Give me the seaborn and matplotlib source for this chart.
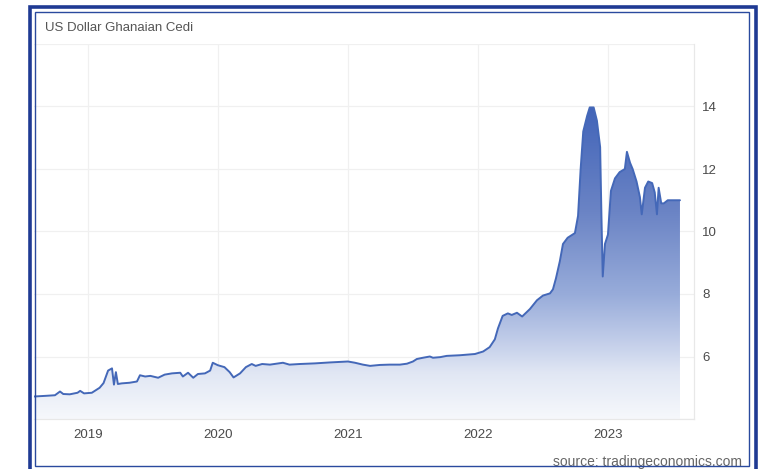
import numpy as np
import pandas as pd
import matplotlib
matplotlib.use("Agg")
import matplotlib.pyplot as plt
from matplotlib.colors import LinearSegmentedColormap
from matplotlib.patches import Rectangle
import seaborn as sns

# ---- data (decimal years, USD/GHS) ----
years = [2018.585, 2018.67, 2018.746, 2018.785, 2018.81, 2018.86, 2018.92, 2018.94, 2018.97,
         2019.03, 2019.09, 2019.12, 2019.155, 2019.185, 2019.20, 2019.215, 2019.23, 2019.26,
         2019.32, 2019.377, 2019.40, 2019.44, 2019.48, 2019.54, 2019.59, 2019.646, 2019.71,
         2019.73, 2019.77, 2019.81, 2019.846, 2019.90, 2019.94, 2019.96, 2020.0, 2020.05,
         2020.09, 2020.12, 2020.17, 2020.215, 2020.26, 2020.29, 2020.34, 2020.40, 2020.50,
         2020.55, 2020.63, 2020.746, 2020.86, 2021.0, 2021.054, 2021.115, 2021.17, 2021.246,
         2021.32, 2021.40, 2021.454, 2021.50, 2021.53, 2021.577, 2021.63, 2021.654, 2021.71,
         2021.76, 2021.86, 2021.977, 2022.04, 2022.09, 2022.13, 2022.154, 2022.19, 2022.23,
         2022.26, 2022.30, 2022.34, 2022.40, 2022.454, 2022.50, 2022.554, 2022.577, 2022.60,
         2022.63, 2022.654, 2022.69, 2022.746, 2022.77, 2022.79, 2022.81, 2022.84, 2022.86,
         2022.89, 2022.915, 2022.94, 2022.95, 2022.96, 2022.977, 2023.0, 2023.023, 2023.054,
         2023.09, 2023.13, 2023.146, 2023.17, 2023.19, 2023.22, 2023.246, 2023.26, 2023.285,
         2023.31, 2023.34, 2023.36, 2023.377, 2023.39, 2023.41, 2023.43, 2023.46, 2023.554]
rates = [4.72, 4.74, 4.76, 4.88, 4.80, 4.79, 4.84, 4.90, 4.82,
         4.84, 5.00, 5.15, 5.55, 5.62, 5.10, 5.50, 5.12, 5.14,
         5.16, 5.20, 5.40, 5.36, 5.38, 5.32, 5.42, 5.46, 5.48,
         5.36, 5.48, 5.32, 5.44, 5.46, 5.55, 5.80, 5.72, 5.66,
         5.50, 5.33, 5.46, 5.66, 5.76, 5.70, 5.76, 5.74, 5.80,
         5.74, 5.76, 5.78, 5.81, 5.84, 5.80, 5.74, 5.70, 5.73,
         5.74, 5.74, 5.77, 5.84, 5.92, 5.96, 6.00, 5.96, 5.98,
         6.02, 6.04, 6.08, 6.16, 6.30, 6.55, 6.90, 7.30, 7.38,
         7.33, 7.40, 7.28, 7.52, 7.80, 7.95, 8.02, 8.15, 8.50,
         9.05, 9.60, 9.80, 9.95, 10.50, 12.00, 13.20, 13.70, 13.97,
         13.97, 13.55, 12.70, 10.50, 8.56, 9.60, 9.90, 11.30, 11.70,
         11.90, 12.00, 12.55, 12.20, 12.00, 11.60, 11.10, 10.55, 11.40,
         11.60, 11.55, 11.25, 10.55, 11.40, 10.90, 10.90, 11.00, 11.00]
x_ticks = [2019, 2020, 2021, 2022, 2023]
x_labels = ["2019", "2020", "2021", "2022", "2023"]
y_ticks = [4, 6, 8, 10, 12, 14, 16]
y_labels = ["", "6", "8", "10", "12", "14", ""]
title = "US Dollar Ghanaian Cedi"
source = "source: tradingeconomics.com"

df = pd.DataFrame({"year": years, "rate": rates})

sns.set_theme(style="white")
plt.rcParams["font.family"] = ["Liberation Sans", "DejaVu Sans"]

W, H = 762, 469
fig = plt.figure(figsize=(W / 100, H / 100), dpi=100)
fig.patch.set_facecolor("white")
ax = fig.add_axes([34 / W, 1 - 419 / H, (694 - 34) / W, (419 - 44) / H])

xmin, xmax = 2018.585, 2023.662
ymin, ymax = 4, 16

# gradient fill under the line
cmap = LinearSegmentedColormap.from_list(
    "tefill",
    [(0.0, "#f6f8fc"), (0.12, "#e1e7f4"), (0.2, "#c4cfea"), (0.33, "#98acda"),
     (0.55, "#6b84c5"), (0.85, "#3f62b8"), (1.0, "#3a5cb2")])
poly = ax.fill_between(df["year"], df["rate"], ymin, facecolor="none", edgecolor="none")
grad = np.linspace(0, 1, 256).reshape(-1, 1)
im = ax.imshow(grad, cmap=cmap, aspect="auto", origin="lower",
               extent=[xmin, xmax, ymin, ymax], zorder=2, interpolation="bilinear")
im.set_clip_path(poly.get_paths()[0], transform=ax.transData)

sns.lineplot(data=df, x="year", y="rate", ax=ax, color="#4468b8", linewidth=1.4, zorder=3)

ax.set_xlim(xmin, xmax)
ax.set_ylim(ymin, ymax)
ax.set_xticks(x_ticks)
ax.set_xticklabels(x_labels)
ax.set_yticks(y_ticks)
ax.set_yticklabels(y_labels)
ax.yaxis.tick_right()
ax.set_xlabel("")
ax.set_ylabel("")
ax.tick_params(axis="both", length=0, labelsize=9.5, labelcolor="#4a4a4a")
ax.tick_params(axis="x", pad=7)
ax.tick_params(axis="y", pad=6)
ax.grid(True, color="#f0f0f0", linewidth=0.9)
ax.set_axisbelow(True)
for side in ["top", "left"]:
    ax.spines[side].set_visible(False)
for side in ["right", "bottom"]:
    ax.spines[side].set_color("#e8e8e8")
    ax.spines[side].set_linewidth(0.9)

fig.text(45 / W, 1 - 28 / H, title, ha="left", va="center", fontsize=9.5, color="#555555")
fig.text(742 / W, 1 - 462 / H, source, ha="right", va="center", fontsize=10, color="#666666")

# navy frame
fig.patches.append(Rectangle((29.5 / W, -0.01), (755.5 - 29.5) / W, (1 - 7.5 / H) + 0.01,
                             transform=fig.transFigure, fill=False, edgecolor="#1f3a93",
                             linewidth=2.6, zorder=10))
fig.patches.append(Rectangle((34.5 / W, 1 - 466 / H), (749 - 34.5) / W, (466 - 12) / H,
                             transform=fig.transFigure, fill=False, edgecolor="#2a4a9e",
                             linewidth=1.0, zorder=10))

fig.savefig("out.png", dpi=100, facecolor="white")
